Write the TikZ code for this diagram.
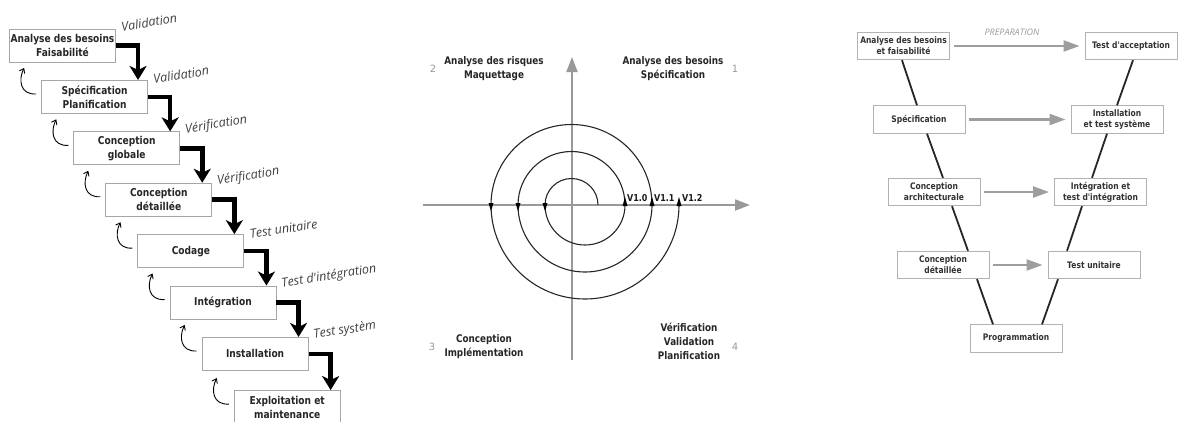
\documentclass[tikz,border=0pt]{standalone}
\usepackage{fontspec}
\setmainfont{DejaVu Sans}
\newfontfamily\cfont[FakeStretch=0.84]{DejaVu Sans}
\newfontfamily\ifont{Open Sans}
\usetikzlibrary{arrows.meta,calc}
\tikzset{
  wbox/.style={draw=black!35, line width=0.9pt, fill=white, minimum width=106pt, minimum height=33pt,
    inner sep=0pt, align=center, text=black!85, font=\cfont\bfseries\fontsize{10.8}{14}\selectfont},
  vbox/.style={draw=black!30, line width=0.9pt, fill=white, minimum width=92pt, minimum height=27.5pt,
    inner sep=0pt, align=center, text=black!80, font=\cfont\bfseries\fontsize{9}{11}\selectfont},
  qtext/.style={align=center, text=black!85, inner sep=0pt, font=\cfont\bfseries\fontsize{10.5}{14}\selectfont},
  qnum/.style={text=black!40, inner sep=0pt, font=\fontsize{10}{12}\selectfont},
  vlab/.style={text=black!90, inner sep=0pt, font=\cfont\bfseries\fontsize{9.5}{11}\selectfont},
  steplab/.style={text=black!75, inner sep=0pt, anchor=south west, rotate=9, font=\ifont\itshape\fontsize{12.5}{14}\selectfont},
  bigarrow/.style={line width=4.5pt, black, -{Stealth[length=14pt,width=17pt,inset=4pt]}},
  retarrow/.style={line width=0.9pt, black, -{Straight Barb[length=4pt,width=6pt]}},
  axis/.style={line width=2pt, black!40, -{Triangle[length=15pt,width=11pt]}},
  spiral/.style={line width=1.1pt, black!85},
  garrow/.style={line width=2.3pt, black!38, -{Triangle[length=16pt,width=11pt]}, shorten <=4pt, shorten >=5pt},
  vline/.style={line width=1.8pt, black!85},
}
\begin{document}
\begin{tikzpicture}[x=1pt,y=-1pt]
\useasboundingbox (0,0) rectangle (1178,421);
% ---------------- Waterfall ----------------
\node[wbox] (b1) at (62.5,45.5) {Analyse des besoins\\Faisabilité};
\node[wbox] (b2) at (94.6,96.9) {Spécification\\Planification};
\node[wbox] (b3) at (126.7,148.3) {Conception\\globale};
\node[wbox] (b4) at (158.8,199.7) {Conception\\détaillée};
\node[wbox] (b5) at (190.9,251.1) {Codage};
\node[wbox] (b6) at (223.0,302.5) {Intégration};
\node[wbox] (b7) at (255.1,353.9) {Installation};
\node[wbox] (b8) at (287.2,407) {Exploitation et\\maintenance};
\foreach \a/\b in {b1/b2,b2/b3,b3/b4,b4/b5,b5/b6,b6/b7,b7/b8}{
  \draw[bigarrow] (\a.east) -| ([xshift=-10pt]\b.north east);
  \draw[retarrow] ([shift={(-5,14)}]\b.north west) .. controls +(-16,1) and +(-6,12) .. ([shift={(-17,-12)}]\b.north west);
}
\node[steplab] at ([shift={(6,3)}]b1.north east) {Validation};
\node[steplab] at ([shift={(6,4)}]b2.north east) {Validation};
\node[steplab] at ([shift={(6,5)}]b3.north east) {Vérification};
\node[steplab] at ([shift={(6,5)}]b4.north east) {Vérification};
\node[steplab] at ([shift={(6,5)}]b5.north east) {Test unitaire};
\node[steplab] at ([shift={(6,5)}]b6.north east) {Test d'intégration};
\node[steplab] at ([shift={(6,5)}]b7.north east) {Test systèm};
% ---------------- Spiral ----------------
\draw[axis] (423,205) -- (750,205);
\draw[axis] (572,360) -- (572,57);
\draw[spiral] (598,205) arc[start angle=0,end angle=-180,radius=26.5]
  arc[start angle=180,end angle=0,radius=40]
  arc[start angle=0,end angle=-180,radius=53.5]
  arc[start angle=180,end angle=0,radius=67]
  arc[start angle=0,end angle=-180,radius=80.5]
  arc[start angle=180,end angle=0,radius=94];
\foreach \x in {545,518,491}{\fill[black] (\x-2.5,203) -- (\x+2.5,203) -- (\x,211) -- cycle;}
\foreach \x in {625,652,679}{\fill[black] (\x-2.5,206) -- (\x+2.5,206) -- (\x,197) -- cycle;}
\node[vlab, anchor=south west] (v10) at (627,202) {V1.0};
\node[vlab, anchor=south west] (v11) at (654,202) {V1.1};
\node[vlab, anchor=south west] (v12) at (682,202) {V1.2};
\node[qtext] (q2) at (494,69) {Analyse des risques\\Maquettage};
\node[qtext] (q1) at (673,69) {Analyse des besoins\\Spécification};
\node[qtext] (q3) at (484,347) {Conception\\Implémentation};
\node[qtext] (q4) at (689,341) {Vérification\\Validation\\Planification};
\node[qnum] (n2) at (433,69) {2};
\node[qnum] (n1) at (735,69) {1};
\node[qnum] (n3) at (432,347) {3};
\node[qnum] (n4) at (735,347) {4};
% ---------------- V model ----------------
\node[vbox] (va) at (903.5,46) {Analyse des besoins\\et faisabilité};
\node[vbox] (ta) at (1131,46) {Test d'acceptation};
\node[vbox] (sp) at (919,119.5) {Spécification};
\node[vbox] (in) at (1117,119.5) {Installation\\et test système};
\node[vbox] (ar) at (934,192) {Conception\\architecturale};
\node[vbox] (ig) at (1100.5,192) {Intégration et\\test d'intégration};
\node[vbox] (de) at (943,265) {Conception\\détaillée};
\node[vbox] (tu) at (1094,265) {Test unitaire};
\node[vbox] (pr) at (1016,338.5) {Programmation};
\draw[garrow] (va) -- (ta);
\draw[garrow] (sp) -- (in);
\draw[garrow] (ar) -- (ig);
\draw[garrow] (de) -- (tu);
\node[text=black!40, inner sep=0pt, font=\ifont\itshape\fontsize{9}{11}\selectfont] (prep) at (1012,32) {PREPARATION};
\draw[vline] ([xshift=-1.5pt]va.south) -- ([xshift=-2pt]sp.north);
\draw[vline] ([xshift=8pt]sp.south) -- ([xshift=9pt]ar.north);
\draw[vline] ([xshift=18pt]ar.south) -- ([xshift=25pt]de.north);
\draw[vline] ([xshift=34pt]de.south) -- ([xshift=-23pt]pr.north);
\draw[vline] ([xshift=26pt]pr.north) -- ([xshift=-36pt]tu.south);
\draw[vline] ([xshift=-27pt]tu.north) -- ([xshift=-18.5pt]ig.south);
\draw[vline] ([xshift=-8.5pt]ig.north) -- ([xshift=-10pt]in.south);
\draw[vline] (in.north) -- ([xshift=2pt]ta.south);
\end{tikzpicture}
\end{document}
